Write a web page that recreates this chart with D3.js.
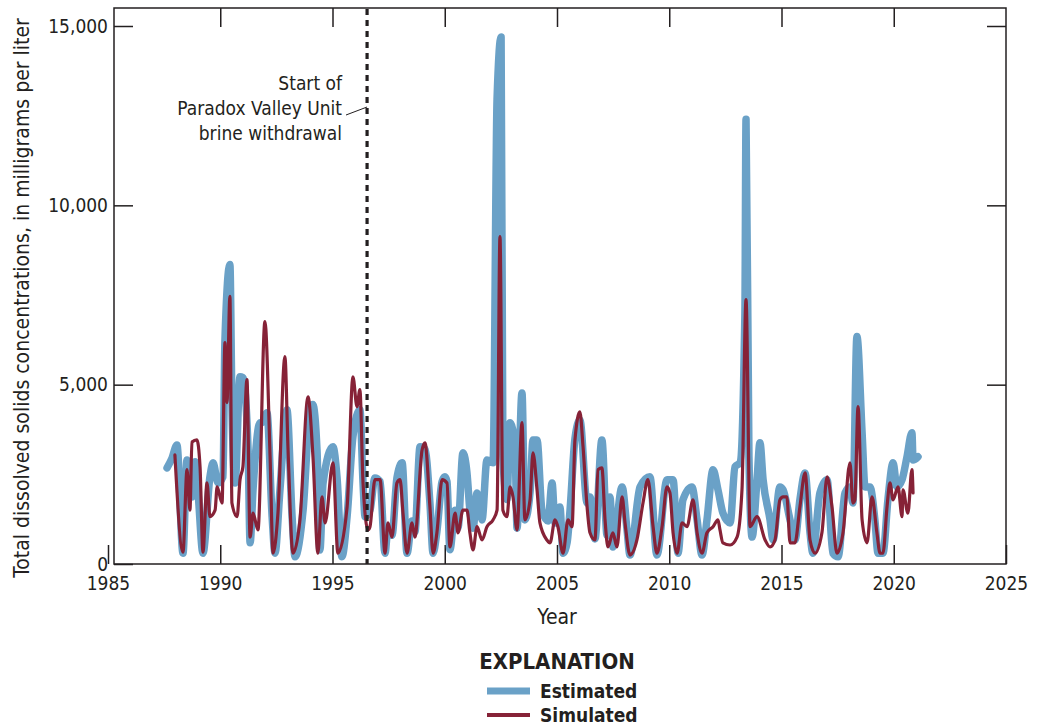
<!DOCTYPE html>
<html>
<head>
<meta charset="utf-8">
<script src="https://cdn.jsdelivr.net/npm/d3@7"></script>
<style>
  body { margin: 0; background: #fff; }
  svg { display: block; }
  text { font-family: "Liberation Sans Narrow", "DejaVu Sans Condensed", "Arial Narrow", sans-serif; fill: #231f20; }
</style>
</head>
<body>
<div id="chart"></div>
<script>
// values: [decimal year, mg/L]
var estimated = [
  [1987.63, 2680], [1987.85, 2950], [1988.07, 3320], [1988.34, 300], [1988.52, 2900], [1988.74, 1870], [1988.88, 2850],
  [1989.01, 2000], [1989.23, 300], [1989.54, 2430], [1989.68, 2820], [1989.90, 2260], [1990.12, 2430],
  [1990.21, 6260], [1990.43, 8350], [1990.52, 4500], [1990.66, 2260], [1990.88, 5220], [1991.01, 5200],
  [1991.24, 3180], [1991.33, 590], [1991.46, 2070], [1991.77, 3940], [1991.86, 3940], [1992.08, 4220],
  [1992.31, 1320], [1992.44, 300], [1992.66, 2070], [1992.97, 4300], [1993.20, 1320], [1993.33, 200],
  [1993.69, 1500], [1994.02, 4400], [1994.12, 4450], [1994.31, 3180], [1994.44, 390], [1994.58, 2260], [1995.02, 3270],
  [1995.20, 2430], [1995.42, 200], [1995.65, 1320], [1995.91, 3550], [1996.22, 4300], [1996.36, 2260],
  [1996.45, 1320], [1996.67, 1500], [1996.89, 2400], [1997.12, 2300], [1997.34, 300], [1997.47, 1000],
  [1997.65, 800], [1997.87, 2400], [1998.10, 2820], [1998.32, 300], [1998.54, 1200], [1998.67, 900],
  [1998.90, 3270], [1999.12, 3200], [1999.34, 1700], [1999.48, 300], [1999.65, 900], [1999.88, 2300],
  [2000.01, 2430], [2000.10, 2300], [2000.23, 400], [2000.46, 1500], [2000.59, 1000], [2000.81, 3100],
  [2000.99, 2540], [2001.12, 1500], [2001.26, 1000], [2001.44, 1980], [2001.66, 1230], [2001.88, 2900],
  [2002.15, 2820], [2002.33, 12960], [2002.51, 14690], [2002.59, 3000], [2002.77, 1800], [2002.91, 3940],
  [2003.13, 3270], [2003.22, 1000], [2003.44, 4770], [2003.57, 1230], [2003.80, 2000], [2003.93, 3460],
  [2004.11, 3460], [2004.33, 1500], [2004.60, 1200], [2004.78, 2260], [2004.91, 1145], [2005.13, 1590],
  [2005.27, 300], [2005.45, 600], [2005.58, 1500], [2005.80, 3500], [2006.02, 4020], [2006.34, 1700],
  [2006.47, 1870], [2006.69, 700], [2007.00, 3460], [2007.23, 800], [2007.36, 1870], [2007.49, 475],
  [2007.90, 2150], [2008.12, 950], [2008.25, 250], [2008.70, 2150], [2009.14, 2430], [2009.45, 250],
  [2009.90, 2350], [2010.17, 2350], [2010.39, 300], [2010.61, 1790], [2011.01, 2150], [2011.24, 1230],
  [2011.46, 250], [2011.68, 1230], [2011.95, 2630], [2012.17, 2070], [2012.39, 1420], [2012.71, 1145],
  [2012.93, 2710], [2013.15, 2820], [2013.37, 7000], [2013.42, 12400], [2013.55, 3000], [2013.69, 750],
  [2013.91, 2350], [2014.04, 3380], [2014.18, 2350], [2014.49, 1230], [2014.62, 670], [2014.93, 2150],
  [2015.07, 2070], [2015.38, 1230], [2015.60, 670], [2015.82, 1790], [2016.05, 2540], [2016.27, 870],
  [2016.40, 300], [2016.71, 1980], [2017.03, 2350], [2017.29, 300], [2017.52, 200], [2017.83, 1980],
  [2018.05, 2150], [2018.18, 1700], [2018.36, 6340], [2018.59, 3660], [2018.72, 2150], [2018.94, 2150],
  [2019.16, 1230], [2019.30, 300], [2019.52, 300], [2019.74, 1790], [2019.97, 2820], [2020.14, 2150],
  [2020.37, 2350], [2020.59, 2990], [2020.81, 3660], [2020.86, 2900], [2021.08, 2990]
]

var simulated = [
  [1987.98, 3040], [1988.34, 330], [1988.52, 2630], [1988.65, 1500], [1988.74, 3400], [1988.96, 3460],
  [1989.10, 2710], [1989.23, 330], [1989.41, 2260], [1989.54, 1320], [1989.77, 1500], [1989.86, 2150],
  [1990.08, 1700], [1990.21, 6170], [1990.30, 4500], [1990.43, 7460], [1990.52, 1700], [1990.75, 1320],
  [1990.88, 2350], [1991.01, 2710], [1991.19, 5140], [1991.33, 750], [1991.46, 1420], [1991.68, 950],
  [1991.99, 6760], [1992.22, 2990], [1992.35, 300], [1992.57, 1420], [1992.88, 5780], [1993.02, 3180],
  [1993.24, 300], [1993.55, 1230], [1993.91, 4660], [1994.13, 2990], [1994.35, 300], [1994.53, 1870],
  [1994.67, 1145], [1995.02, 2820], [1995.24, 300], [1995.65, 1590], [1995.91, 5220], [1996.09, 4390],
  [1996.22, 4860], [1996.36, 2260], [1996.58, 950], [1996.67, 1040], [1996.89, 2350], [1997.12, 2350],
  [1997.34, 300], [1997.47, 1145], [1997.65, 750], [1997.87, 2260], [1998.01, 2350], [1998.14, 1420],
  [1998.32, 300], [1998.54, 1145], [1998.67, 750], [1998.99, 3180], [1999.12, 3380], [1999.34, 1590],
  [1999.48, 300], [1999.65, 870], [1999.88, 2350], [2000.10, 2260], [2000.23, 475], [2000.46, 1420],
  [2000.59, 870], [2000.81, 1500], [2000.99, 1500], [2001.12, 870], [2001.26, 390], [2001.44, 1040],
  [2001.66, 670], [2001.88, 1040], [2002.15, 1230], [2002.33, 1500], [2002.46, 9130], [2002.59, 1500],
  [2002.77, 1320], [2002.91, 2150], [2003.04, 1870], [2003.22, 950], [2003.44, 3940], [2003.57, 1230],
  [2003.80, 1790], [2003.93, 3100], [2004.11, 2070], [2004.24, 1145], [2004.55, 670], [2004.69, 590],
  [2004.91, 1230], [2005.04, 1040], [2005.27, 300], [2005.49, 1230], [2005.67, 1040], [2005.80, 3460],
  [2006.02, 4240], [2006.16, 3270], [2006.34, 1590], [2006.47, 870], [2006.69, 670], [2006.83, 2630],
  [2007.00, 2680], [2007.14, 1230], [2007.27, 475], [2007.49, 870], [2007.67, 475], [2007.90, 1870],
  [2008.03, 1145], [2008.25, 250], [2008.56, 670], [2008.83, 1700], [2009.05, 2350], [2009.28, 1040],
  [2009.45, 300], [2009.68, 1040], [2009.90, 2150], [2010.03, 1980], [2010.17, 870], [2010.35, 300],
  [2010.57, 1145], [2010.79, 1040], [2011.06, 1790], [2011.24, 870], [2011.46, 300], [2011.68, 870],
  [2011.95, 1040], [2012.17, 1230], [2012.26, 950], [2012.39, 590], [2012.71, 530], [2013.02, 750],
  [2013.24, 2070], [2013.42, 7370], [2013.60, 1040], [2013.91, 1320], [2014.27, 670], [2014.49, 475],
  [2014.71, 670], [2014.93, 1790], [2015.07, 1870], [2015.24, 1870], [2015.38, 590], [2015.60, 590],
  [2015.82, 1590], [2016.05, 2540], [2016.27, 670], [2016.49, 300], [2016.80, 870], [2017.03, 2430],
  [2017.25, 1590], [2017.47, 300], [2017.74, 870], [2018.05, 2820], [2018.18, 1700], [2018.27, 1790],
  [2018.41, 4390], [2018.59, 1230], [2018.81, 590], [2019.03, 1870], [2019.25, 870], [2019.39, 300],
  [2019.52, 300], [2019.70, 1590], [2019.83, 2260], [2019.97, 1790], [2020.19, 2150], [2020.37, 1320],
  [2020.41, 2070], [2020.63, 1420], [2020.81, 2630], [2020.86, 1980]
]

var xTicks = [1985, 1990, 1995, 2000, 2005, 2010, 2015, 2020, 2025]
var yTicks = [0, 5000, 10000, 15000]
var withdrawalYear = 1996.54
var noteLines = ["Start of", "Paradox Valley Unit", "brine withdrawal"]
var legendItems = ["Estimated", "Simulated"]

var width = 1039
var height = 725
var blue = "#6aa1c7"
var red = "#862237"
var ink = "#231f20"

var svg = d3.select("#chart")
  .append("svg")
  .attr("width", width)
  .attr("height", height)

var x = d3.scaleLinear().domain([1985, 2025]).range([108, 1006])
var y = d3.scaleLinear().domain([0, 15000]).range([564, 26])

var frameLeft = 114, frameTop = 8

// frame
svg.append("rect")
  .attr("x", frameLeft)
  .attr("y", frameTop)
  .attr("width", x(2025) - frameLeft)
  .attr("height", y(0) - frameTop)
  .attr("fill", "none")
  .attr("stroke", ink)
  .attr("stroke-width", 1.5)

// axes, ticks pointing inward
svg.append("g")
  .attr("transform", `translate(0,${y(0)})`)
  .call(d3.axisBottom(x).tickValues(xTicks).tickSize(-19).tickPadding(13).tickFormat(d3.format("d")))
svg.append("g")
  .attr("transform", `translate(0,${frameTop})`)
  .call(d3.axisTop(x).tickValues(xTicks.slice(1, -1)).tickSize(-19).tickFormat(""))
svg.append("g")
  .attr("transform", `translate(${frameLeft},0)`)
  .call(d3.axisLeft(y).tickValues(yTicks).tickSize(-19).tickPadding(6).tickFormat(d3.format(",")))
svg.append("g")
  .attr("transform", `translate(${x(2025)},0)`)
  .call(d3.axisRight(y).tickValues(yTicks.slice(1)).tickSize(-19).tickFormat(""))

svg.selectAll(".domain").remove()
svg.selectAll(".tick line").attr("stroke", ink).attr("stroke-width", 1.5)
svg.selectAll(".tick text")
  .attr("fill", ink)
  .style("font-size", "19px")
  .style("font-family", '"Liberation Sans Narrow", "DejaVu Sans Condensed", sans-serif')

// series
var line = d3.line()
  .curve(d3.curveMonotoneX)
  .x(d => x(d[0]))
  .y(d => y(d[1]))

svg.append("path")
  .datum(estimated)
  .attr("d", line)
  .attr("fill", "none")
  .attr("stroke", blue)
  .attr("stroke-width", 7.5)
  .attr("stroke-linejoin", "round")
  .attr("stroke-linecap", "round")

svg.append("path")
  .datum(simulated)
  .attr("d", line)
  .attr("fill", "none")
  .attr("stroke", red)
  .attr("stroke-width", 3.2)
  .attr("stroke-linejoin", "round")
  .attr("stroke-linecap", "round")

// start of brine withdrawal
svg.append("line")
  .attr("x1", x(withdrawalYear)).attr("x2", x(withdrawalYear))
  .attr("y1", frameTop + 1).attr("y2", y(0))
  .attr("stroke", ink)
  .attr("stroke-width", 3.2)
  .attr("stroke-dasharray", "6,5")

svg.append("g")
  .selectAll("text")
  .data(noteLines)
  .join("text")
    .attr("x", 342)
    .attr("y", (d, i) => 90 + i * 25)
    .attr("text-anchor", "end")
    .style("font-size", "19px")
    .text(d => d)

svg.append("line")
  .attr("x1", 346).attr("y1", 115)
  .attr("x2", x(withdrawalYear)).attr("y2", 107)
  .attr("stroke", ink)
  .attr("stroke-width", 1)

// axis titles
svg.append("text")
  .attr("x", 557)
  .attr("y", 624)
  .attr("text-anchor", "middle")
  .style("font-size", "21px")
  .text("Year")

svg.append("text")
  .attr("transform", "translate(29,298) rotate(-90)")
  .attr("text-anchor", "middle")
  .style("font-size", "21px")
  .text("Total dissolved solids concentrations, in milligrams per liter")

// legend
svg.append("text")
  .attr("x", 557)
  .attr("y", 669)
  .attr("text-anchor", "middle")
  .style("font-size", "22px")
  .style("font-weight", "bold")
  .text("EXPLANATION")

var legend = svg.append("g")
  .selectAll("g")
  .data(legendItems)
  .join("g")
    .attr("transform", (d, i) => `translate(487,${691 + i * 24})`)

legend.append("line")
  .attr("x1", 0).attr("x2", 43)
  .attr("stroke", (d, i) => i === 0 ? blue : red)
  .attr("stroke-width", (d, i) => i === 0 ? 7 : 4)

legend.append("text")
  .attr("x", 53)
  .attr("y", 7)
  .style("font-size", "19px")
  .style("font-weight", "bold")
  .text(d => d)
</script>
</body>
</html>
